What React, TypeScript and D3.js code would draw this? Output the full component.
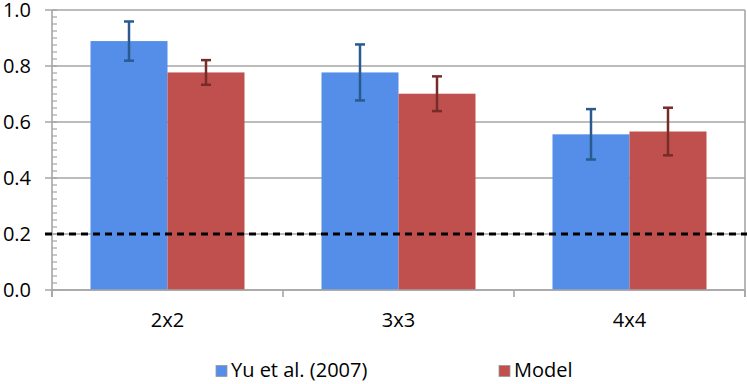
import React from 'react';
import * as d3 from 'd3';

// chart data
const categories = ['2x2', '3x3', '4x4'];
const seriesNames = ['Yu et al. (2007)', 'Model'];
const yuValues = [0.889, 0.777, 0.556];
const yuErrors = [0.07, 0.1, 0.09];
const modelValues = [0.777, 0.701, 0.566];
const modelErrors = [0.044, 0.062, 0.085];
const yTicks = [0, 0.2, 0.4, 0.6, 0.8, 1.0];
const chanceLevel = 0.2;

const fills = ['#548EE8', '#C0504D'];
const errColors = ['#2A5A8E', '#772C2A'];
const gridColor = '#A6A6A6';
const font = '"Open Sans", "Noto Sans", sans-serif';

export default function App() {
  const width = 747;
  const height = 384;
  const margin = { top: 10, right: 2, bottom: 94, left: 52 };

  const x0 = d3.scaleBand()
    .domain(categories)
    .range([margin.left, width - margin.right])
    .paddingInner(0)
    .paddingOuter(0);

  // Excel-like gap width: half a bar on each side of the pair
  const x1 = d3.scaleBand()
    .domain(seriesNames)
    .range([0, x0.bandwidth()])
    .paddingInner(0)
    .paddingOuter(0.5);

  const y = d3.scaleLinear()
    .domain([0, 1])
    .range([height - margin.bottom, margin.top]);

  const minorTicks = d3.range(0, 1.0001, 0.025);

  const rows = categories.map((c, i) => ({
    cat: c,
    bars: [
      { name: seriesNames[0], v: yuValues[i], e: yuErrors[i], s: 0 },
      { name: seriesNames[1], v: modelValues[i], e: modelErrors[i], s: 1 },
    ],
  }));

  const x0Edges = [...categories.map((c) => x0(c)!), width - margin.right];

  return (
    <svg
      width={width}
      height={height}
      style={{ position: 'absolute', left: 0, top: 0, background: '#fff' }}
      fontFamily={font}
    >
      {/* gridlines with outward major ticks */}
      {yTicks.map((t) => (
        <line key={'g' + t} x1={45} x2={width - margin.right} y1={y(t)} y2={y(t)}
          stroke={gridColor} strokeWidth={1.6} />
      ))}
      {/* minor ticks */}
      {minorTicks.map((t, i) => (
        <line key={'m' + i} x1={margin.left} x2={margin.left + 5} y1={y(t)} y2={y(t)}
          stroke={gridColor} strokeWidth={1.2} />
      ))}
      {/* y axis */}
      <line x1={margin.left} x2={margin.left} y1={y(1)} y2={y(0) + 7} stroke={gridColor} strokeWidth={1.6} />
      {/* right border */}
      <line x1={width - margin.right} x2={width - margin.right} y1={y(1)} y2={y(0) + 7} stroke={gridColor} strokeWidth={1.6} />
      {/* category boundary ticks */}
      {x0Edges.map((xe, i) => (
        <line key={'xt' + i} x1={xe} x2={xe} y1={y(0)} y2={y(0) + 7} stroke={gridColor} strokeWidth={1.6} />
      ))}

      {/* bars */}
      {rows.map((r) => (
        <g key={r.cat} transform={`translate(${x0(r.cat)},0)`}>
          {r.bars.map((b) => (
            <rect key={b.name} x={x1(b.name)} y={y(b.v)} width={x1.bandwidth()}
              height={y(0) - y(b.v)} fill={fills[b.s]} />
          ))}
        </g>
      ))}

      {/* x axis line */}
      <line x1={margin.left} x2={width - margin.right} y1={y(0)} y2={y(0)} stroke={gridColor} strokeWidth={1.6} />

      {/* chance level */}
      <line x1={45} x2={width} y1={y(chanceLevel)} y2={y(chanceLevel)}
        stroke="#000" strokeWidth={3} strokeDasharray="7,5" />

      {/* error bars */}
      {rows.map((r) => (
        <g key={'e' + r.cat} transform={`translate(${x0(r.cat)},0)`}>
          {r.bars.map((b) => {
            const cx = x1(b.name)! + x1.bandwidth() / 2;
            const col = errColors[b.s];
            return (
              <g key={b.name} stroke={col} strokeWidth={2.5}>
                <line x1={cx} x2={cx} y1={y(b.v + b.e)} y2={y(b.v - b.e)} />
                <line x1={cx - 5} x2={cx + 5} y1={y(b.v + b.e)} y2={y(b.v + b.e)} />
                <line x1={cx - 5} x2={cx + 5} y1={y(b.v - b.e)} y2={y(b.v - b.e)} />
              </g>
            );
          })}
        </g>
      ))}

      {/* y tick labels */}
      {yTicks.map((t) => (
        <text key={'yl' + t} x={31} y={y(t)} dy="0.36em" textAnchor="end" fontSize={20} fill="#000">
          {t.toFixed(1)}
        </text>
      ))}

      {/* category labels */}
      {categories.map((c) => (
        <text key={'cl' + c} x={x0(c)! + x0.bandwidth() / 2} y={327} textAnchor="middle" fontSize={20} fill="#000">
          {c}
        </text>
      ))}

      {/* legend */}
      {seriesNames.map((n, i) => {
        const lx = [216, 499][i];
        return (
          <g key={'lg' + n}>
            <rect x={lx} y={365.5} width={11} height={11} fill={fills[i]} stroke="#9a9a9a" strokeWidth={0.8} />
            <text x={lx + 15} y={377} fontSize={20} fill="#000">{n}</text>
          </g>
        );
      })}
    </svg>
  );
}
